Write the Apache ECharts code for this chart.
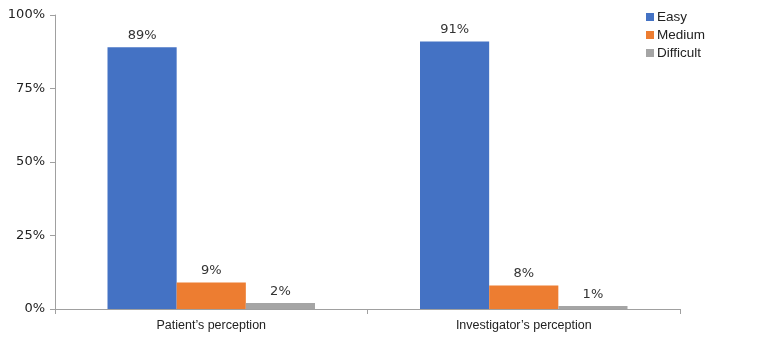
<!DOCTYPE html>
<html>
<head>
<meta charset="utf-8">
<script src="https://cdn.jsdelivr.net/npm/echarts@6/dist/echarts.min.js"></script>
<style>
  html, body { margin: 0; padding: 0; background: #fff; }
  #main { width: 760px; height: 337px; }
</style>
</head>
<body>
<div id="main"></div>
<script>
// data
const categories = ["Patient\u2019s perception", "Investigator\u2019s perception"];
const seriesNames = ["Easy", "Medium", "Difficult"];
const easy = [89, 91];
const medium = [9, 8];
const difficult = [2, 1];
const yTicks = [0, 25, 50, 75, 100];

const colors = ['#4472C4', '#ED7D31', '#A5A5A5'];
const values = [easy, medium, difficult];

let chart = echarts.init(document.getElementById('main'));

const series = seriesNames.map((name, i) => ({
    name: name,
    type: 'bar',
    data: values[i],
    itemStyle: { color: colors[i] },
    barGap: '0%',
    barCategoryGap: '33.6%',
    label: {
        show: true,
        position: 'top',
        distance: 5,
        formatter: '{c}%',
        fontFamily: 'DejaVu Sans',
        fontSize: 13,
        color: '#333'
    }
}));

chart.setOption({
    animation: false,
    backgroundColor: '#fff',
    grid: { left: 55, right: 80, top: 15, bottom: 28, containLabel: false },
    legend: {
        orient: 'vertical',
        left: 641,
        top: 5,
        itemWidth: 8,
        itemHeight: 8,
        itemGap: 4,
        icon: 'rect',
        data: seriesNames,
        textStyle: { fontFamily: 'Liberation Sans', fontSize: 13.5, color: '#222', padding: [0, 0, 0, -2] }
    },
    xAxis: {
        type: 'category',
        data: categories,
        axisLine: { lineStyle: { color: '#a0a0a0' } },
        axisTick: { show: true, alignWithLabel: false, length: 5, lineStyle: { color: '#a0a0a0' } },
        axisLabel: { fontFamily: 'Liberation Sans', fontSize: 12.5, color: '#222', margin: 10 }
    },
    yAxis: {
        type: 'value',
        min: yTicks[0],
        max: yTicks[yTicks.length - 1],
        interval: yTicks[1] - yTicks[0],
        axisLine: { show: true, lineStyle: { color: '#a0a0a0' } },
        axisTick: { show: true, length: 5, lineStyle: { color: '#a0a0a0' } },
        splitLine: { show: false },
        axisLabel: { formatter: '{value}%', fontFamily: 'DejaVu Sans', fontSize: 13, color: '#222', margin: 10 }
    },
    series: series
});
</script>
</body>
</html>
